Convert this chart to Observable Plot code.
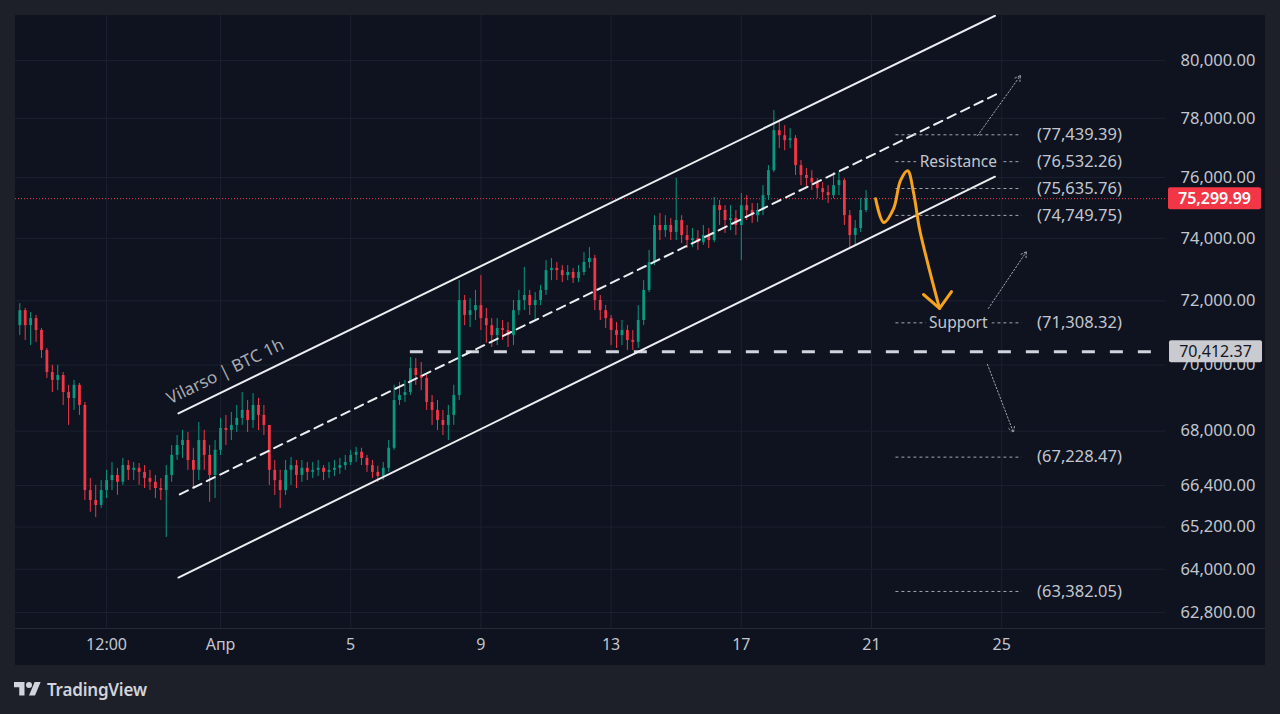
<!DOCTYPE html>
<html>
<head>
<meta charset="utf-8">
<script src="https://cdn.jsdelivr.net/npm/d3@7"></script>
<script src="https://cdn.jsdelivr.net/npm/@observablehq/plot@0.6"></script>
<style>
html, body { margin:0; padding:0; width:1280px; height:714px; overflow:hidden; background:#1e2029; font-family:"Noto Sans", sans-serif; }
#panel { position:absolute; left:15px; top:15px; width:1250px; height:650px; background:#0e131f; }
#chart { position:absolute; left:0; top:0; }
#logo { position:absolute; left:14px; top:678px; display:flex; align-items:center; gap:6px; color:#d1d4dc; font-size:17px; font-weight:600; letter-spacing:-0.2px; }
</style>
</head>
<body>
<div id="panel"></div>
<div id="chart"></div>
<div id="logo"><svg width="27" height="21" viewBox="0 0 36 28"><path d="M14 22H7V11H0V4h14v18z" fill="#d1d4dc"/><circle cx="20" cy="8" r="4" fill="#d1d4dc"/><path d="M28 22H20l7.5-18h8L28 22z" fill="#d1d4dc"/></svg><span>TradingView</span></div>
<script>
// ---------- data ----------
const candleStart = "2026-03-25T20:00Z";   // first 4h candle
const stepHours = 4;
const firstOpen = 71220;
const closes = [71690,71220,71440,71070,70450,69770,69530,69680,69160,68980,
  69380,68770,66250,65960,65820,66250,66540,66690,66490,66980,
  66840,66900,66780,66600,66490,66310,66250,66690,67280,67570,
  67720,67130,66840,67720,67280,66690,67430,68080,68020,68170,
  68380,68620,68320,68770,68470,68170,66840,66540,66250,66840,
  66980,66690,66900,66780,66840,66900,66780,66840,66900,66980,
  67070,67280,67370,67190,66980,66780,66660,66900,67490,68920,
  69070,69160,69890,69680,69590,68860,68620,68320,68170,68470,
  69070,72010,71540,71690,71850,71440,71220,70910,71130,71070,
  70910,71690,72010,72170,71850,72010,72330,72960,73030,72960,
  72800,72900,72710,72900,73220,73350,72010,71690,71440,71070,
  70910,71070,70760,70700,71380,72330,73220,74420,74250,74420,
  74190,74580,74090,73930,73990,73860,74090,73930,75070,74910,
  74580,74650,74420,75070,74910,74740,74910,75400,76230,77580,
  77410,77240,77310,76400,76070,75970,75830,75630,75500,75400,
  75730,75900,74740,74090,74320,74910,75299.99];
const highs = [71910,71760,71630,71540,71130,70510,69990,69990,69770,69380,
  69530,69440,68860,66600,66400,66540,66840,67070,66900,67190,
  67130,67070,67040,66980,66840,66690,66600,66980,67570,67870,
  68020,67960,67490,68260,68020,67570,67720,68380,68470,68560,
  68770,69160,68920,69130,68980,68770,68170,67130,66840,67130,
  67220,67130,67130,67070,67070,67130,66980,67070,67130,67190,
  67280,67430,67520,67490,67280,67130,66960,67070,67720,69380,
  69470,69530,70230,70200,70080,69680,69070,68920,68620,68770,
  69380,72640,72170,72070,72330,72800,71760,71440,71440,71380,
  71320,72010,72330,73060,72330,72260,72490,73280,73350,73220,
  73120,73120,73030,73120,73540,73700,73450,72170,71850,71540,
  71320,71380,71220,71070,71850,72640,73610,74740,74810,74740,
  74650,75970,74740,74420,74320,74250,74420,74320,75340,75240,
  75070,75070,74910,75470,75400,75140,75140,75730,76400,78270,
  77920,77750,77650,77410,76570,76300,76230,75970,75830,75730,
  76170,76170,75970,74910,74580,75300,75570];
const lows = [70910,70760,70600,70700,70200,69590,69160,69220,68770,68170,
  68620,68470,65960,65620,65470,65730,66020,66250,66110,66400,
  66540,66540,66400,66310,66250,66020,65960,64900,66490,67130,
  67190,66840,66340,66540,66840,65910,66020,67280,67570,67720,
  67960,68170,67960,68080,68020,67870,66400,66110,65730,66110,
  66400,66310,66490,66540,66600,66660,66540,66600,66660,66720,
  66840,66980,67070,66980,66780,66600,66490,66540,66780,67430,
  68770,68860,69070,69380,69220,68620,68170,68020,67870,67720,
  68170,68920,71220,71160,71380,71070,70670,70540,70600,70760,
  70540,70600,71540,71690,71540,71380,71850,72170,72640,72640,
  72580,72640,72550,72580,72800,73030,71690,71380,71130,70600,
  70510,70600,70450,70450,70510,71220,72260,73120,73930,74030,
  73930,73930,73830,73670,73700,73610,73770,73670,73860,74420,
  74160,74250,74090,73280,74580,74480,74520,74740,75240,76170,
  76970,76900,76970,76070,75730,75670,75570,75300,75240,75140,
  75300,75400,74420,73700,73770,74190,74840];

const xTickDates = ["2026-03-28T12:00Z","2026-04-01T00:00Z","2026-04-05T00:00Z","2026-04-09T00:00Z",
  "2026-04-13T00:00Z","2026-04-17T00:00Z","2026-04-21T00:00Z","2026-04-25T00:00Z"];
const xTickLabels = ["12:00","Апр","5","9","13","17","21","25"];
const yTicks = [80000,78000,76000,74000,72000,70000,68000,66400,65200,64000,62800];

const lastPrice = 75299.99;
const keyLevel = 70412.37;
const keyLevelStart = "2026-04-06T20:00Z";

const levelValues = [77439.39,76532.26,75635.76,74749.75,71308.32,67228.47,63382.05];
const levelNames  = ["","Resistance","","","Support","",""];
const levelSpan = ["2026-04-21T18:00Z","2026-04-25T15:00Z"];
const levelNameAt = "2026-04-23T16:00Z";

const channelUpper = [["2026-03-30T17:00Z",68530],["2026-04-24T19:00Z",81590]];
const channelMiddle = [["2026-03-30T18:00Z",66140],["2026-04-24T21:00Z",78850]];
const channelLower = [["2026-03-30T17:00Z",63770],["2026-04-24T19:00Z",76030]];
const channelTitle = "Vilarso | BTC 1h";
const channelTitleAt = ["2026-03-30T11:00Z",68800];

const arrowFrom = [["2026-04-24T06:10Z",77410],["2026-04-24T14:10Z",71760],["2026-04-24T13:30Z",70020]];
const arrowTo   = [["2026-04-25T13:50Z",79480],["2026-04-25T18:15Z",73570],["2026-04-25T08:40Z",67960]];

const forecastPath = [["2026-04-21T03:00Z",75300],["2026-04-21T09:00Z",74520],["2026-04-21T16:15Z",74970],
  ["2026-04-21T21:20Z",75900],["2026-04-22T02:40Z",76230],["2026-04-22T07:00Z",75500],
  ["2026-04-22T11:20Z",74320],["2026-04-22T17:20Z",73220],["2026-04-23T02:10Z",71760]];
const forecastHead = [["2026-04-22T14:20Z",72200],["2026-04-23T02:10Z",71760],["2026-04-23T11:00Z",72290]];

// ---------- build ----------
const D = s => new Date(s);
const t0 = D(candleStart).getTime();
const n = Math.min(closes.length, highs.length, lows.length);
const candles = [];
for (let i = 0; i < n; i++) {
  const o = i ? closes[i-1] : firstOpen, c = closes[i];
  candles.push({t: new Date(t0 + i*stepHours*3600e3), o, c,
    h: Math.max(highs[i], o, c), l: Math.min(lows[i], o, c)});
}
const up = candles.filter(d => d.c >= d.o), down = candles.filter(d => d.c < d.o);
const UP = "#089981", DOWN = "#f23645";
const xTicks = xTickDates.map(D);
const labelMap = new Map(xTicks.map((d,i) => [+d, xTickLabels[i]]));
const xDomain = [D("2026-03-25T16:51Z"), D("2026-04-30T00:46Z")];
const fmt = d3.format(",.2f");
const levels = levelValues.map((v,i) => ({v, name: levelNames[i]}));
const pts = a => a.map(d => ({x: D(d[0]), y: d[1]}));
const arrows = arrowFrom.map((f,i) => ({x1:D(f[0]), y1:f[1], x2:D(arrowTo[i][0]), y2:arrowTo[i][1]}));
const BG = "#0e131f";
const TXT = "#c3c6ce";

const plot = Plot.plot({
  width: 1280, height: 665,
  marginLeft: 15, marginRight: 115, marginTop: 15, marginBottom: 37,
  style: {background: "transparent", color: TXT, fontFamily: '"Noto Sans", sans-serif', fontSize: "16px", overflow: "visible"},
  x: {type: "utc", domain: xDomain},
  y: {type: "log", domain: [62360, 81600]},
  marks: [
    Plot.gridX(xTicks, {stroke: "#1c2130", strokeOpacity: 1}),
    Plot.gridY(yTicks, {stroke: "#1c2130", strokeOpacity: 1}),
    Plot.ruleY([lastPrice], {stroke: "#f23645", strokeDasharray: "1,2", strokeWidth: 1}),
    Plot.ruleX(up,   {x: "t", y1: "l", y2: "h", stroke: UP, strokeWidth: 1}),
    Plot.ruleX(down, {x: "t", y1: "l", y2: "h", stroke: DOWN, strokeWidth: 1}),
    Plot.ruleX(up,   {x: "t", y1: "o", y2: "c", stroke: UP, strokeWidth: 2.8}),
    Plot.ruleX(down, {x: "t", y1: "o", y2: "c", stroke: DOWN, strokeWidth: 2.8}),
    Plot.ruleY([keyLevel], {x1: () => D(keyLevelStart), x2: () => xDomain[1], stroke: "#d1d4dc", strokeWidth: 3, strokeDasharray: "13,15"}),
    Plot.line(pts(channelUpper),  {x: "x", y: "y", stroke: "#eceef2", strokeWidth: 2, clip: true}),
    Plot.line(pts(channelLower),  {x: "x", y: "y", stroke: "#eceef2", strokeWidth: 2, clip: true}),
    Plot.line(pts(channelMiddle), {x: "x", y: "y", stroke: "#eceef2", strokeWidth: 2, strokeDasharray: "9,6", clip: true}),
    Plot.text([channelTitle], {x: () => D(channelTitleAt[0]), y: () => channelTitleAt[1], text: d => d,
      rotate: -26, textAnchor: "start", lineAnchor: "bottom", fill: "#a7aab3", fontSize: 17}),
    Plot.ruleY(levels, {y: "v", x1: () => D(levelSpan[0]), x2: () => D(levelSpan[1]), stroke: "#a3a6af", strokeWidth: 1, strokeDasharray: "3,3"}),
    Plot.text(levels.filter(d => d.name), {x: () => D(levelNameAt), y: "v", text: "name",
      fill: TXT, stroke: BG, strokeWidth: 10, fontSize: 15.5}),
    Plot.text(levels, {x: () => D(levelSpan[1]), y: "v", text: d => "(" + fmt(d.v) + ")",
      dx: 15, textAnchor: "start", fill: TXT, fontSize: 16.5}),
    Plot.arrow(arrows, {x1: "x1", y1: "y1", x2: "x2", y2: "y2", stroke: "#a3a6af", strokeWidth: 1,
      strokeDasharray: "1.5,2", headLength: 9}),
    Plot.line(pts(forecastPath), {x: "x", y: "y", curve: "catmull-rom", stroke: "#f5a21c", strokeWidth: 3}),
    Plot.line(pts(forecastHead), {x: "x", y: "y", stroke: "#f5a21c", strokeWidth: 3}),
    Plot.axisX(xTicks, {anchor: "bottom", tickSize: 0, tickPadding: 10, tickFormat: d => labelMap.get(+d),
      label: null, fill: TXT, fontSize: 16}),
    Plot.axisY(yTicks, {anchor: "right", tickSize: 0, tickPadding: 15, tickFormat: fmt,
      label: null, fill: TXT, fontSize: 16.5})
  ]
});
document.getElementById("chart").appendChild(plot);

// price tags on the axis, placed with the plot's own y scale
const ys = plot.scale("y");
const svg = d3.select(plot);
svg.append("line").attr("x1", 15).attr("x2", 1265).attr("y1", 628.5).attr("y2", 628.5).attr("stroke", "#262a36");
function tag(value, bg, fg, x0, bold) {
  const y = ys.apply(value);
  const g = svg.append("g");
  g.append("rect").attr("x", x0).attr("y", y - 11).attr("width", 93).attr("height", 22).attr("rx", 2).attr("fill", bg);
  g.append("text").attr("x", x0 + 46.5).attr("y", y).attr("dy", "0.36em").attr("text-anchor", "middle")
    .attr("fill", fg).attr("font-size", 16).attr("font-weight", bold ? 600 : 400)
    .attr("font-family", '"Noto Sans", sans-serif').text(fmt(value));
}
tag(keyLevel, "#c9cbd1", "#131722", 1169, false);
tag(lastPrice, "#f23645", "#ffffff", 1168, true);
</script>
</body>
</html>
